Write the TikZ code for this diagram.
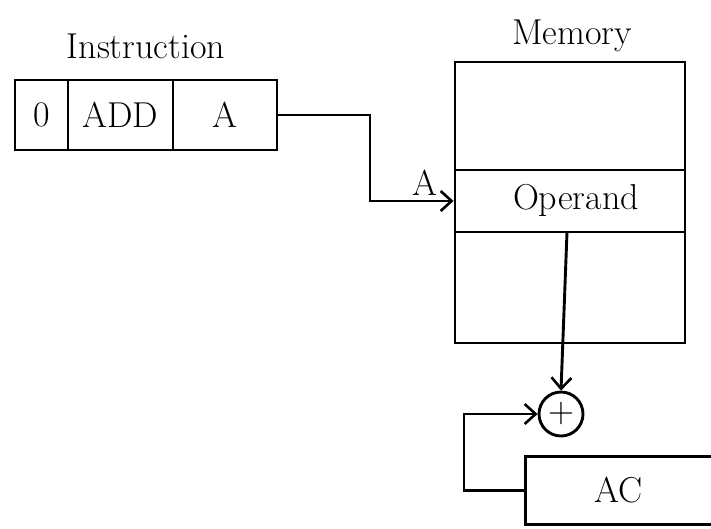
\documentclass[tikz,border=0pt]{standalone}
\usetikzlibrary{arrows.meta}
\begin{document}
\begin{tikzpicture}[x=1pt,y=-1pt,
  line width=2.9pt,
  cell/.style={draw,rectangle,inner sep=0pt,minimum height=70pt},
  memcell/.style={draw,rectangle,inner sep=0pt,minimum width=230pt},
  lbl/.style={font=\fontsize{36}{38}\selectfont},
  tip/.style={-{Straight Barb[length=11pt,width=20pt,line width=2.6pt]}}]
\useasboundingbox (0,0) rectangle (711,528);
% instruction
\node[lbl] (ititle) at (146,46) {Instruction};
\node[cell,minimum width=53pt,lbl] (f0) at (41.5,115) {0};
\node[cell,minimum width=105pt,lbl] (f1) at (120.5,115) {ADD};
\node[cell,minimum width=104pt,lbl] (f2) at (225,115) {A};
% memory
\node[lbl] (mtitle) at (572,36) {Memory};
\node[memcell,minimum height=108pt] (m1) at (570,116) {};
\node[memcell,minimum height=62pt] (m2) at (570,201) {};
\node[lbl] (optext) at (576,200) {Operand};
\node[memcell,minimum height=111pt] (m3) at (570,287.5) {};
% adder
\node[draw,circle,minimum size=44pt,inner sep=0pt,lbl] (sum) at (561,414) {+};
% AC
\node[rectangle,minimum width=184pt,minimum height=65pt,inner sep=0pt,lbl] (ac) at (619,490.5) {AC};
\draw (ac.north east) -- (ac.north west) -- (ac.south west) -- (ac.south east);
% connectors
\coordinate (bend) at (370,115);
\draw[tip] (f2.east) -- (bend) |- node[pos=0.83,above,lbl,yshift=1pt] {A} (m2.west);
\coordinate (drop) at (567,232);
\draw[tip] (drop) -- (sum.north);
\coordinate (lp) at (464,490.5);
\draw[tip] (ac.west) -- (lp) |- (sum.west);
\end{tikzpicture}
\end{document}
